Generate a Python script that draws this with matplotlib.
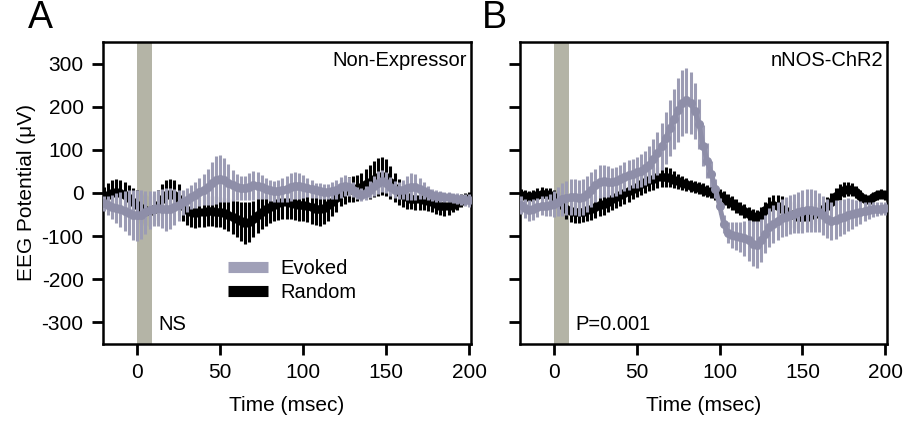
import numpy as np
import matplotlib
matplotlib.use("Agg")
import matplotlib.pyplot as plt

plt.rcParams['font.family'] = ['Liberation Sans', 'DejaVu Sans']
plt.rcParams['axes.unicode_minus'] = False

# time base (msec), one sample every 2.5 ms
t = np.arange(-20, 200.1, 2.5)

# Panel A: Non-Expressor
a_evoked = [-24, -28, -32, -35, -38, -42, -46, -50, -52, -50,
            -45, -40, -36, -35, -36, -38, -36, -32, -28, -22,
            -16, -10, -4, 2, 8, 14, 22, 30, 33, 30,
            24, 18, 14, 12, 12, 15, 18, 17, 14, 10,
            6, 4, 4, 6, 10, 14, 17, 17, 15, 12,
            9, 6, 4, 3, 3, 5, 8, 13, 17, 15,
            8, 0, -4, 0, 8, 16, 24, 28, 24, 15,
            8, 6, 8, 12, 15, 14, 10, 5, 0, -4,
            -7, -8, -9, -10, -12, -13, -15, -16, -17]
a_evoked_sem = [18, 22, 28, 34, 40, 46, 52, 58, 60, 56,
                50, 44, 40, 42, 46, 50, 48, 42, 36, 30,
                28, 28, 30, 32, 36, 42, 50, 56, 55, 50,
                44, 36, 30, 28, 28, 32, 34, 32, 28, 25,
                24, 24, 25, 28, 30, 32, 32, 30, 26, 22,
                20, 18, 18, 18, 18, 20, 22, 24, 24, 22,
                18, 15, 15, 16, 20, 24, 26, 26, 24, 22,
                20, 20, 22, 28, 32, 30, 25, 20, 16, 14,
                13, 12, 12, 12, 12, 12, 13, 14, 15]
a_random = [-12, -5, 0, 2, 0, -5, -12, -20, -28, -35,
            -40, -42, -38, -28, -15, -5, -2, -5, -15, -30,
            -40, -45, -46, -45, -43, -42, -42, -43, -45, -47,
            -50, -55, -60, -66, -70, -67, -60, -52, -45, -38,
            -32, -27, -24, -22, -22, -23, -25, -27, -28, -30,
            -33, -36, -38, -35, -28, -20, -12, 0, 5, 8,
            10, 12, 15, 20, 26, 33, 38, 40, 36, 25,
            12, 2, -5, -10, -13, -14, -15, -16, -18, -22,
            -26, -30, -31, -30, -27, -23, -18, -14, -12]
a_random_sem = [25, 28, 30, 30, 30, 30, 30, 32, 34, 35,
                35, 35, 35, 35, 35, 35, 35, 35, 35, 35,
                35, 35, 35, 35, 35, 35, 35, 35, 35, 36,
                38, 40, 42, 45, 48, 46, 42, 40, 38, 38,
                38, 38, 38, 38, 38, 38, 38, 38, 38, 38,
                38, 38, 38, 38, 36, 34, 32, 30, 30, 30,
                30, 30, 32, 35, 40, 42, 44, 44, 42, 38,
                34, 30, 28, 26, 25, 25, 25, 24, 24, 22,
                22, 22, 22, 20, 18, 16, 15, 15, 15]

# Panel B: nNOS-ChR2
b_evoked = [-28, -35, -40, -38, -33, -30, -30, -28, -25, -20,
            -15, -12, -10, -10, -12, -10, -2, 8, 18, 26,
            28, 26, 25, 27, 32, 38, 42, 45, 48, 52,
            58, 66, 78, 92, 108, 128, 150, 172, 192, 208,
            215, 208, 190, 160, 110, 75, 45, 10, -30, -72,
            -92, -98, -100, -102, -105, -110, -118, -120, -110, -95,
            -80, -72, -65, -58, -55, -50, -48, -45, -42, -40,
            -40, -42, -45, -52, -60, -65, -62, -58, -55, -50,
            -48, -46, -45, -42, -40, -38, -37, -36, -35]
b_evoked_sem = [20, 22, 24, 24, 22, 22, 24, 26, 30, 34,
                38, 40, 42, 42, 42, 42, 42, 40, 38, 38,
                38, 36, 34, 34, 34, 34, 34, 34, 36, 38,
                40, 42, 46, 50, 55, 60, 65, 70, 74, 76,
                75, 72, 66, 58, 48, 40, 30, 22, 18, 20,
                25, 30, 32, 35, 40, 48, 52, 55, 50, 45,
                45, 45, 45, 45, 45, 45, 45, 48, 50, 50,
                50, 48, 46, 45, 45, 45, 45, 42, 40, 38,
                35, 30, 26, 22, 20, 18, 16, 15, 15]
b_random = [-5, -8, -10, -8, -4, -2, -3, -5, -10, -18,
            -28, -36, -42, -45, -45, -43, -40, -37, -33, -29,
            -25, -20, -15, -10, -5, 0, 5, 10, 15, 20,
            25, 29, 33, 36, 38, 37, 35, 31, 27, 23,
            20, 17, 14, 11, 8, 5, 2, -2, -6, -12,
            -18, -24, -30, -36, -42, -48, -53, -56, -50, -40,
            -32, -28, -30, -36, -42, -48, -52, -55, -56, -55,
            -52, -48, -44, -38, -30, -20, -8, 2, 8, 10,
            8, 2, -6, -14, -16, -10, -4, -2, -4]
b_random_sem = [15, 15, 15, 15, 15, 15, 15, 16, 18, 20,
                22, 24, 25, 25, 25, 25, 25, 25, 25, 25,
                25, 25, 25, 25, 25, 25, 25, 25, 25, 25,
                25, 25, 25, 25, 25, 24, 22, 20, 18, 16,
                15, 14, 14, 14, 14, 14, 14, 15, 15, 16,
                16, 16, 16, 16, 16, 16, 16, 16, 18, 20,
                22, 24, 26, 28, 30, 30, 30, 30, 30, 28,
                26, 24, 22, 20, 20, 20, 20, 18, 18, 16,
                15, 14, 14, 12, 12, 12, 12, 12, 12]

panels = [
    ("A", "Non-Expressor", "NS", a_evoked, a_evoked_sem, a_random, a_random_sem),
    ("B", "nNOS-ChR2", "P=0.001", b_evoked, b_evoked_sem, b_random, b_random_sem),
]

stim = (0, 9)
grey_line = '#8e8ea8'
grey_bar = '#9c9cb4'
stim_col = '#b4b4a6'

fig = plt.figure(figsize=(9.07, 4.24), dpi=100)
ax_a = fig.add_axes([0.1136, 0.1887, 0.4057, 0.7123])
ax_b = fig.add_axes([0.5733, 0.1887, 0.4046, 0.7123])

for ax, (letter, title, stat, ev, ev_sem, rnd, rnd_sem) in zip([ax_a, ax_b], panels):
    ax.axvspan(stim[0], stim[1], color=stim_col, lw=0, zorder=1)
    ax.errorbar(t, rnd, yerr=rnd_sem, fmt='o-', color='black', ms=5.5, lw=3.5,
                ecolor='black', elinewidth=2.2, capsize=0, zorder=2)
    ax.errorbar(t, ev, yerr=ev_sem, fmt='o-', color=grey_line, ms=5.5, lw=3.5,
                ecolor=grey_bar, elinewidth=2.2, capsize=0, zorder=3)
    ax.set_xlim(-20.5, 201)
    ax.set_ylim(-350, 350)
    ax.set_xticks([0, 50, 100, 150, 200])
    ax.set_yticks([-300, -200, -100, 0, 100, 200, 300])
    ax.tick_params(direction='out', length=8, width=2, labelsize=15, pad=6)
    for s in ax.spines.values():
        s.set_linewidth(1.8)
    ax.set_xlabel('Time (msec)', fontsize=15, labelpad=10)
    ax.text(0.99, 0.97, title, transform=ax.transAxes, ha='right', va='top', fontsize=14.5)
    ax.text(13, -318, stat, ha='left', va='baseline', fontsize=14.5)
    fig.text(ax.get_position().x0 - 0.083 if letter == "A" else 0.531, 0.915, letter,
             fontsize=27, ha='left', va='bottom')

ax_a.set_ylabel('EEG Potential (\u03bcV)', fontsize=15, labelpad=4)
ax_b.tick_params(axis='y', labelleft=False)

# legend in panel A
h1, = ax_a.plot([], [], color='#a0a0b8', lw=8, solid_capstyle='butt')
h2, = ax_a.plot([], [], color='black', lw=8, solid_capstyle='butt')
ax_a.legend([h1, h2], ['Evoked', 'Random'], loc='center left',
            bbox_to_anchor=(0.29, 0.21), frameon=False, fontsize=14.5,
            handlelength=2.0, handletextpad=0.6, labelspacing=0.25)

fig.savefig('out.png', dpi=100)
